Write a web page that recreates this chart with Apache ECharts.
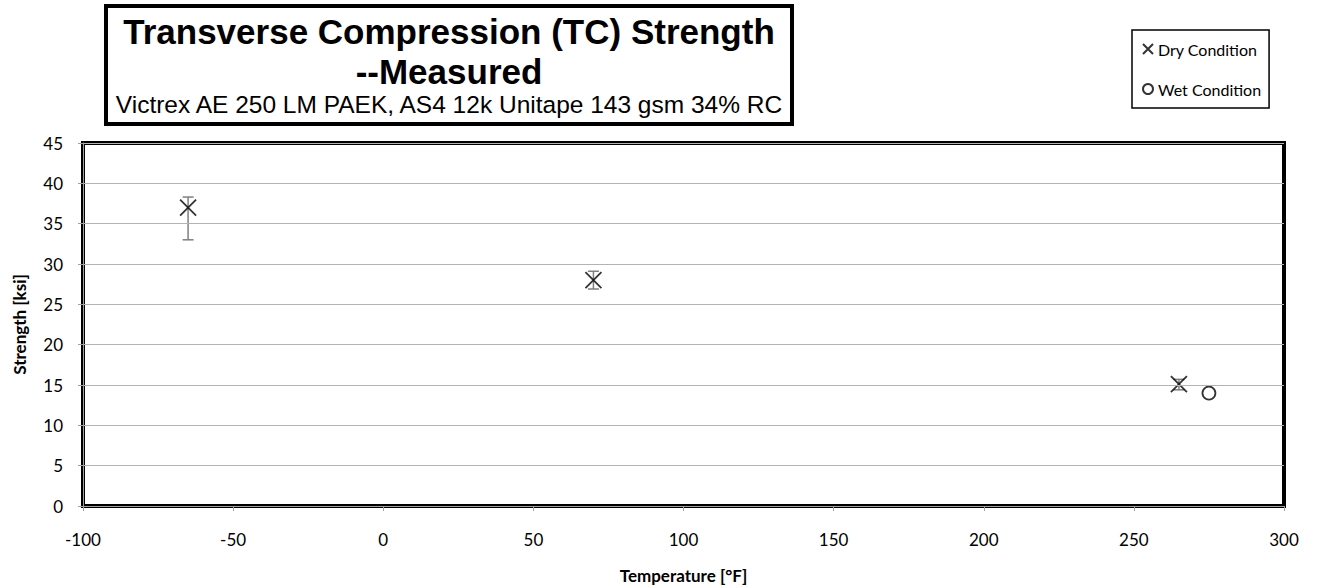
<!DOCTYPE html>
<html>
<head>
<meta charset="utf-8">
<title>Transverse Compression (TC) Strength</title>
<script src="https://cdn.jsdelivr.net/npm/echarts@6/dist/echarts.min.js"></script>
<style>
  html, body { margin: 0; padding: 0; background: #fff; }
  #chart { width: 1320px; height: 588px; }
</style>
</head>
<body>
<div id="chart"></div>
<script>
// Test temperatures [°F] and measured strengths [ksi]
const dryTemps = [-65, 70, 265];
const dryStrength = [37.0, 28.0, 15.1];
const dryErrLow = [33.0, 26.9, 14.4];
const dryErrHigh = [38.3, 29.1, 15.7];

const wetTemps = [275];
const wetStrength = [14.0];

const xTicks = { min: -100, max: 300, interval: 50 };
const yTicks = { min: 0, max: 45, interval: 5 };

const titleLines = ['Transverse Compression (TC) Strength', '--Measured'];
const subTitle = 'Victrex AE 250 LM PAEK, AS4 12k Unitape 143 gsm 34% RC';

const bodyFont = 'Lato, "Noto Sans", sans-serif';
const titleFont = '"Liberation Sans", Arial, sans-serif';
const crossPath = 'path://M0,0L16,16M16,0L0,16';

const chart = echarts.init(document.getElementById('chart'), null, { renderer: 'svg' });

const dryPoints = dryTemps.map((t, i) => [t, dryStrength[i]]);
const wetPoints = wetTemps.map((t, i) => [t, wetStrength[i]]);
const errorRanges = dryTemps.map((t, i) => [t, dryErrLow[i], dryErrHigh[i]]);

chart.setOption({
  animation: false,
  backgroundColor: '#fff',
  grid: {
    left: 83, right: 36, top: 143, bottom: 82,
    outerBoundsMode: 'none',
    containLabel: false,
    show: true, borderColor: '#000', borderWidth: 4, backgroundColor: 'transparent'
  },
  xAxis: {
    type: 'value',
    min: xTicks.min, max: xTicks.max, interval: xTicks.interval,
    name: 'Temperature [°F]',
    nameLocation: 'middle', nameGap: 61,
    nameTextStyle: { fontFamily: bodyFont, fontWeight: 'bold', fontSize: 17, color: '#000' },
    axisLine: { show: true, onZero: false, lineStyle: { color: '#a0a0a0', width: 1 } },
    axisTick: { show: true, length: 5, lineStyle: { color: '#a0a0a0' } },
    axisLabel: { fontFamily: bodyFont, fontSize: 17, color: '#000', margin: 25 },
    splitLine: { show: false },
    z: 5
  },
  yAxis: {
    type: 'value',
    min: yTicks.min, max: yTicks.max, interval: yTicks.interval,
    name: 'Strength [ksi]',
    nameLocation: 'middle', nameGap: 55, nameRotate: 90,
    nameTextStyle: { fontFamily: bodyFont, fontWeight: 'bold', fontSize: 17, color: '#000' },
    axisLine: { show: true, onZero: false, lineStyle: { color: '#a0a0a0', width: 1 } },
    axisTick: { show: true, length: 5, lineStyle: { color: '#a0a0a0' } },
    axisLabel: { fontFamily: bodyFont, fontSize: 17, color: '#000', margin: 20 },
    splitLine: { show: true, lineStyle: { color: '#b3b3b3', width: 1 } },
    z: 5
  },
  legend: {
    orient: 'vertical',
    left: 1132, top: 30,
    padding: [11, 8, 11, 10],
    itemGap: 24,
    itemWidth: 10, itemHeight: 10,
    borderColor: '#000', borderWidth: 1.5,
    textStyle: { fontFamily: bodyFont, fontSize: 16, color: '#000', padding: [0, 0, 0, 0] },
    data: [
      { name: 'Dry Condition', icon: 'path://M0,0L16,16M16,0L0,16' },
      { name: 'Wet Condition', icon: 'circle' }
    ]
  },
  graphic: [
    {
      type: 'rect',
      shape: { x: 106, y: 6, width: 686, height: 118 },
      style: { fill: '#fff', stroke: '#000', lineWidth: 4 },
      z: 10
    },
    {
      type: 'text', x: 449, y: 31, z: 11,
      style: { text: titleLines[0], fontFamily: titleFont, fontWeight: 'bold', fontSize: 35,
               fill: '#000', align: 'center', verticalAlign: 'middle' }
    },
    {
      type: 'text', x: 449, y: 71, z: 11,
      style: { text: titleLines[1], fontFamily: titleFont, fontWeight: 'bold', fontSize: 35,
               fill: '#000', align: 'center', verticalAlign: 'middle' }
    },
    {
      type: 'text', x: 449, y: 104, z: 11,
      style: { text: subTitle, fontFamily: titleFont, fontSize: 24.5,
               fill: '#000', align: 'center', verticalAlign: 'middle' }
    }
  ],
  series: [
    {
      name: 'Dry error',
      type: 'custom',
      data: errorRanges,
      z: 3,
      silent: true,
      renderItem: function (params, api) {
        const x = api.value(0);
        const lo = api.coord([x, api.value(1)]);
        const hi = api.coord([x, api.value(2)]);
        const cap = 5.5;
        const style = { stroke: '#7f7f7f', lineWidth: 1.5, fill: null };
        return {
          type: 'group',
          children: [
            { type: 'line', shape: { x1: lo[0], y1: lo[1], x2: hi[0], y2: hi[1] }, style: style },
            { type: 'line', shape: { x1: lo[0] - cap, y1: lo[1], x2: lo[0] + cap, y2: lo[1] }, style: style },
            { type: 'line', shape: { x1: hi[0] - cap, y1: hi[1], x2: hi[0] + cap, y2: hi[1] }, style: style }
          ]
        };
      }
    },
    {
      name: 'Dry Condition',
      type: 'scatter',
      data: dryPoints,
      symbol: crossPath,
      symbolSize: 16,
      z: 4,
      itemStyle: { color: 'transparent', borderColor: '#000', borderWidth: 1.8 }
    },
    {
      name: 'Wet Condition',
      type: 'scatter',
      data: wetPoints,
      symbol: 'circle',
      symbolSize: 13,
      z: 4,
      itemStyle: { color: 'transparent', borderColor: '#000', borderWidth: 1.8 }
    }
  ]
});
</script>
</body>
</html>
